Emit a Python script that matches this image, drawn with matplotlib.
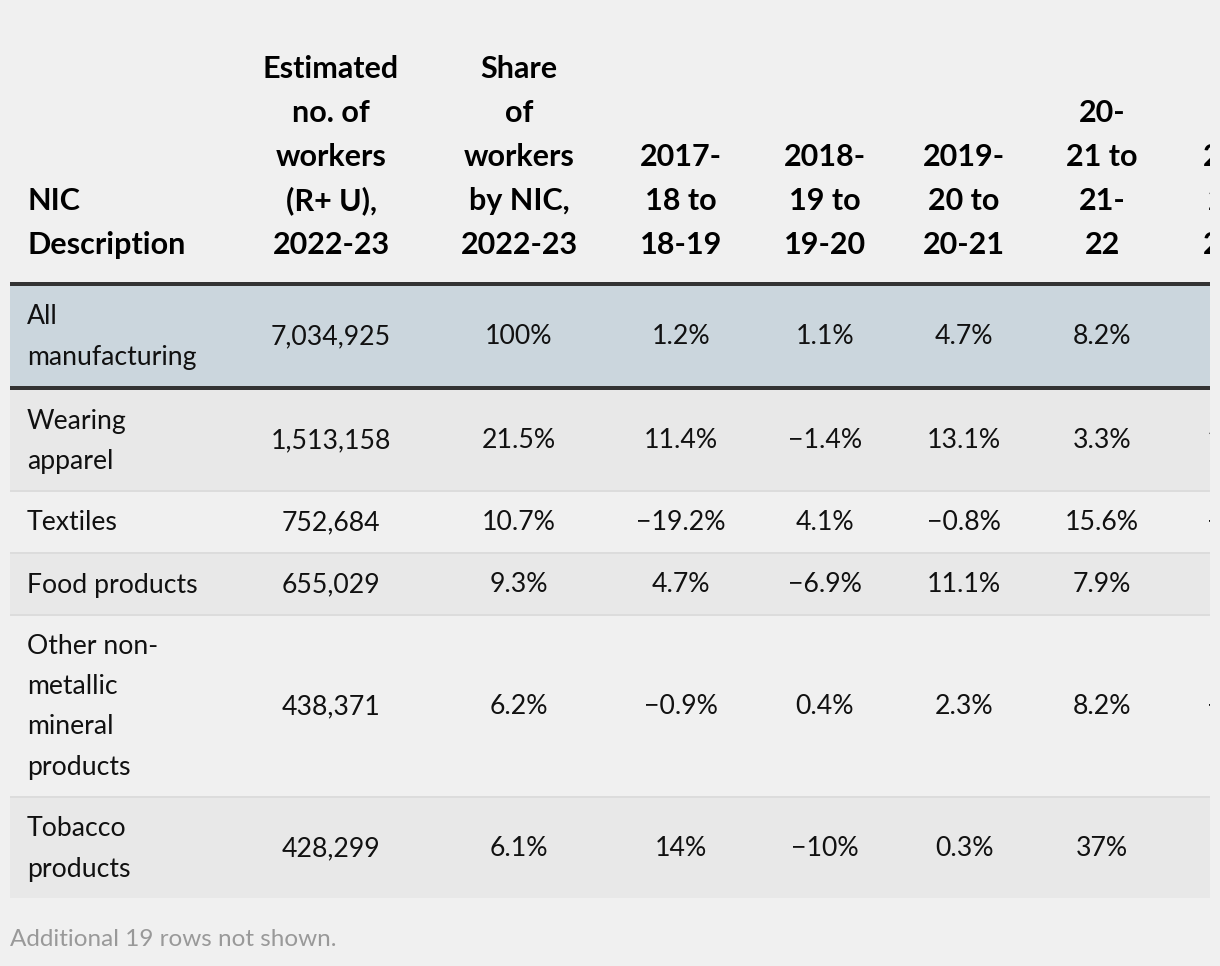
import matplotlib.pyplot as plt
from matplotlib.patches import Rectangle

# table content
headers = [
    "NIC\nDescription",
    "Estimated\nno. of\nworkers\n(R+ U),\n2022-23",
    "Share\nof\nworkers\nby NIC,\n2022-23",
    "2017-\n18 to\n18-19",
    "2018-\n19 to\n19-20",
    "2019-\n20 to\n20-21",
    "20-\n21 to\n21-\n22",
    "2021-\n22 to\n22-23",
]
nic_desc = ["All\nmanufacturing", "Wearing\napparel", "Textiles", "Food products",
            "Other non-\nmetallic\nmineral\nproducts", "Tobacco\nproducts"]
workers = ["7,034,925", "1,513,158", "752,684", "655,029", "438,371", "428,299"]
share = ["100%", "21.5%", "10.7%", "9.3%", "6.2%", "6.1%"]
g_1718 = ["1.2%", "11.4%", "\u221219.2%", "4.7%", "\u22120.9%", "14%"]
g_1819 = ["1.1%", "\u22121.4%", "4.1%", "\u22126.9%", "0.4%", "\u221210%"]
g_1920 = ["4.7%", "13.1%", "\u22120.8%", "11.1%", "2.3%", "0.3%"]
g_2021 = ["8.2%", "3.3%", "15.6%", "7.9%", "8.2%", "37%"]
g_2122 = ["5.0%", "12.0%", "\u22123.2%", "6.5%", "\u22121.8%", "18%"]  # mostly cut off
footer = "Additional 19 rows not shown."

columns = [nic_desc, workers, share, g_1718, g_1819, g_1920, g_2021, g_2122]
col_x = [27, 331, 519, 681, 825, 964, 1102, 1244]

W, H = 1220, 966
LEFT, RIGHT = 10, 1210
fig = plt.figure(figsize=(W / 100, H / 100), dpi=100)
fig.patch.set_facecolor('#f0f0f0')
# axes ends where the table is cut off, so texts are clipped there
ax = fig.add_axes([0, 0, RIGHT / W, 1])
ax.set_xlim(0, RIGHT)
ax.set_ylim(H, 0)
ax.axis('off')

FONT = ['Lato', 'DejaVu Sans']
FS = 19.2
FS_HEAD = 22


def put_lines(x, ys, lines, ha, **kw):
    for y, s in zip(ys, lines):
        ax.text(x, y, s, ha=ha, va='center', fontfamily=FONT, clip_on=True, **kw)


# header, bottom aligned
header_bottom = 245
for i, h in enumerate(headers):
    lines = h.split("\n")
    ys = [header_bottom - 44 * (len(lines) - 1 - k) for k in range(len(lines))]
    put_lines(col_x[i], ys, lines, 'left' if i == 0 else 'center',
              fontweight='bold', color='black', fontsize=FS_HEAD)

ax.add_patch(Rectangle((LEFT, 282), RIGHT - LEFT, 4, color='#333333', lw=0))

# body rows
y = 286
for r in range(len(nic_desc)):
    nlines = max(len(c[r].split("\n")) for c in columns)
    h = nlines * 40 + 20
    if r == 0:
        bg = '#cbd6dd'
    elif r % 2 == 1:
        bg = '#e8e8e8'
    else:
        bg = '#f0f0f0'
    ax.add_patch(Rectangle((LEFT, y), RIGHT - LEFT, h, color=bg, lw=0))
    mid = y + h / 2 + 1
    for i, col in enumerate(columns):
        lines = col[r].split("\n")
        n = len(lines)
        ys = [mid + 40 * (k - (n - 1) / 2) for k in range(n)]
        put_lines(col_x[i], ys, lines, 'left' if i == 0 else 'center',
                  color='#111111', fontsize=FS)
    y += h
    if r == 0:
        ax.add_patch(Rectangle((LEFT, y), RIGHT - LEFT, 4, color='#333333', lw=0))
        y += 4
    elif r < len(nic_desc) - 1:
        ax.add_patch(Rectangle((LEFT, y), RIGHT - LEFT, 2, color='#dcdcdc', lw=0))
        y += 2

ax.text(LEFT, 939, footer, ha='left', va='center', fontfamily=FONT,
        fontsize=17.5, color='#999999')

fig.savefig('out.png', dpi=100, facecolor=fig.get_facecolor())
